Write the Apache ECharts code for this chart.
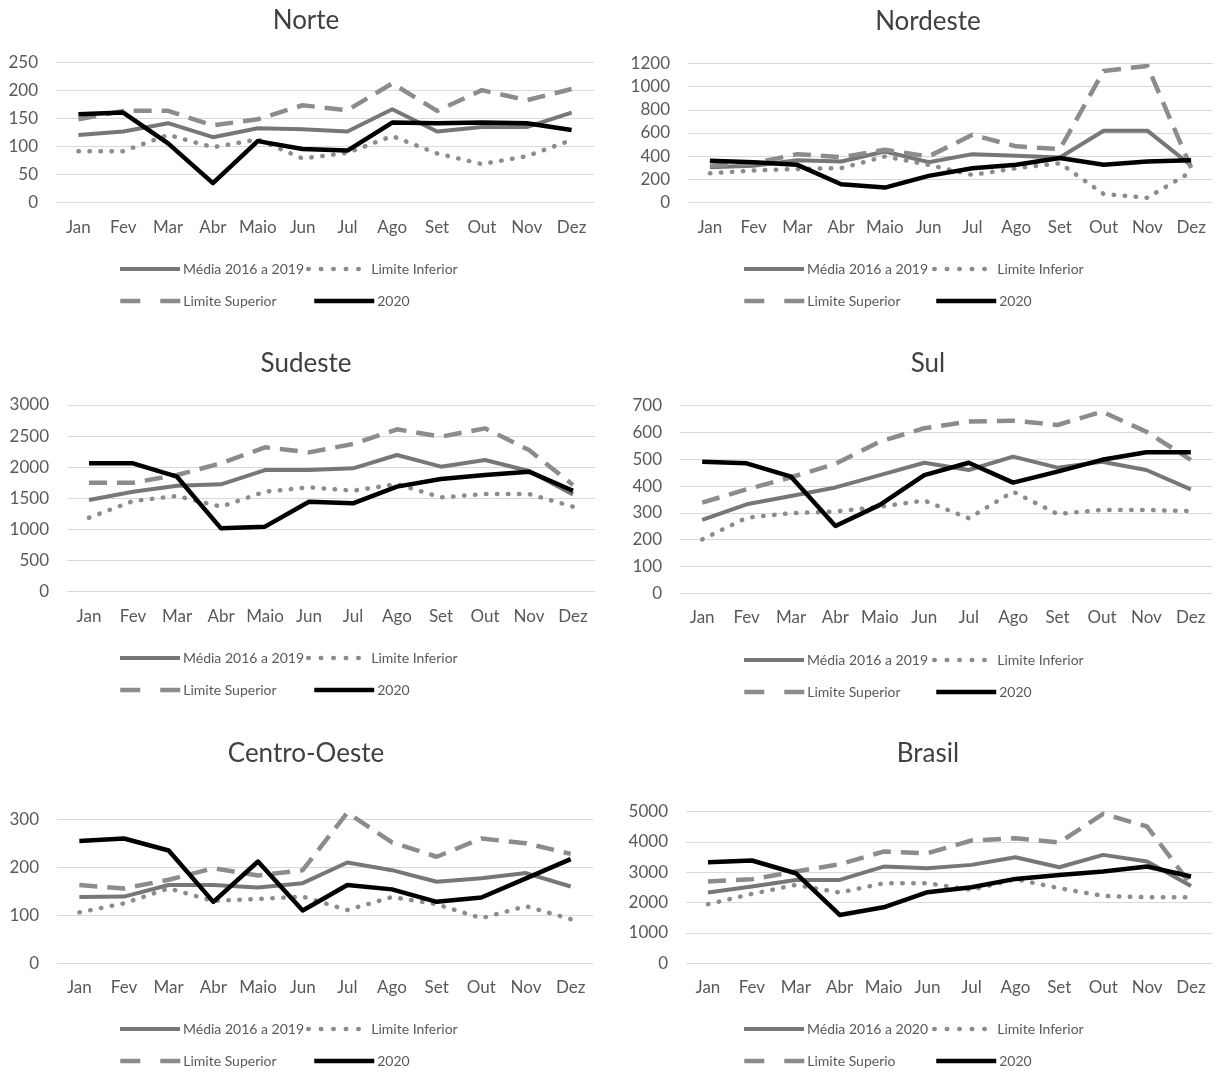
<!DOCTYPE html>
<html>
<head>
<meta charset="utf-8">
<title>Óbitos por região</title>
<script src="https://cdn.jsdelivr.net/npm/echarts@6/dist/echarts.min.js"></script>
<style>
  html, body { margin: 0; padding: 0; background: #ffffff; }
  #chart { width: 1223px; height: 1074px; }
</style>
</head>
<body>
<div id="chart"></div>
<script>
// Month categories shared by every panel
const months = ['Jan', 'Fev', 'Mar', 'Abr', 'Maio', 'Jun', 'Jul', 'Ago', 'Set', 'Out', 'Nov', 'Dez'];

// Norte
const norteMedia     = [121, 127, 142, 117, 133, 131, 127, 167, 127, 135, 135, 161];
const norteInferior  = [92, 92, 121, 99, 113, 79, 89, 119, 88, 69, 83, 112];
const norteSuperior  = [149, 164, 164, 138, 149, 174, 165, 213, 164, 201, 183, 203];
const norte2020      = [158, 161, 106, 35, 110, 96, 93, 143, 142, 143, 142, 130];

// Nordeste
const nordesteMedia    = [305, 318, 365, 355, 441, 349, 418, 404, 389, 620, 620, 320];
const nordesteInferior = [253, 277, 291, 297, 398, 326, 239, 297, 340, 75, 43, 265];
const nordesteSuperior = [318, 340, 418, 392, 456, 398, 585, 485, 461, 1134, 1177, 300];
const nordeste2020     = [361, 349, 326, 159, 130, 231, 297, 326, 384, 326, 355, 365];

// Sudeste
const sudesteMedia    = [1473, 1607, 1704, 1725, 1955, 1955, 1982, 2196, 2009, 2116, 1939, 1564];
const sudesteInferior = [1189, 1457, 1538, 1366, 1607, 1677, 1623, 1730, 1516, 1570, 1570, 1366];
const sudesteSuperior = [1752, 1752, 1875, 2062, 2320, 2239, 2373, 2609, 2491, 2625, 2277, 1714];
const sudeste2020     = [2062, 2062, 1848, 1018, 1045, 1446, 1420, 1688, 1812, 1875, 1929, 1623];

// Sul
const sulMedia    = [274, 332, 363, 395, 441, 487, 460, 510, 469, 491, 460, 388];
const sulInferior = [201, 282, 299, 305, 323, 346, 280, 379, 296, 311, 311, 307];
const sulSuperior = [338, 388, 433, 483, 566, 616, 641, 644, 628, 678, 603, 498];
const sul2020     = [491, 485, 435, 251, 330, 441, 487, 413, 454, 498, 526, 526];

// Centro-Oeste
const centroMedia    = [138, 139, 163, 163, 158, 167, 210, 194, 170, 177, 188, 160];
const centroInferior = [106, 125, 156, 130, 134, 139, 111, 138, 123, 94, 119, 92];
const centroSuperior = [163, 156, 174, 198, 183, 194, 314, 252, 222, 260, 250, 228];
const centro2020     = [255, 260, 235, 128, 212, 110, 163, 154, 128, 137, 177, 217];

// Brasil
const brasilMedia    = [2330, 2527, 2747, 2747, 3187, 3132, 3242, 3495, 3165, 3571, 3352, 2549];
const brasilInferior = [1945, 2286, 2582, 2330, 2637, 2637, 2418, 2769, 2473, 2220, 2176, 2176];
const brasilSuperior = [2692, 2769, 3022, 3264, 3681, 3626, 4044, 4121, 3978, 4923, 4505, 2582];
const brasil2020     = [3330, 3385, 2967, 1593, 1846, 2341, 2505, 2780, 2912, 3022, 3187, 2857];

// Series labels
const namesRegiao = ['Média 2016 a 2019', 'Limite Inferior', 'Limite Superior', '2020'];
const namesBrasil = ['Média 2016 a 2020', 'Limite Inferior', 'Limite Superio', '2020'];

const FONT = 'Lato, "Open Sans", sans-serif';
const LEFT_COL = { title: 306, leg: [118, 306, 118, 312] };
const RIGHT_COL = { title: 928, leg: [742, 932, 742, 934] };

const panels = [
  { title: 'Norte', col: LEFT_COL, titleY: 19,
    grid: { left: 56, top: 62.7, width: 538, height: 140 }, max: 250, interval: 50,
    legY: [269, 301], names: namesRegiao,
    data: [norteMedia, norteInferior, norteSuperior, norte2020] },
  { title: 'Nordeste', col: RIGHT_COL, titleY: 20,
    grid: { left: 688, top: 63.3, width: 525, height: 139.4 }, max: 1200, interval: 200,
    legY: [269, 301], names: namesRegiao,
    data: [nordesteMedia, nordesteInferior, nordesteSuperior, nordeste2020] },
  { title: 'Sudeste', col: LEFT_COL, titleY: 362,
    grid: { left: 67, top: 405, width: 528, height: 186.7 }, max: 3000, interval: 500,
    legY: [658, 690], names: namesRegiao,
    data: [sudesteMedia, sudesteInferior, sudesteSuperior, sudeste2020] },
  { title: 'Sul', col: RIGHT_COL, titleY: 362,
    grid: { left: 680, top: 405.7, width: 533, height: 187.6 }, max: 700, interval: 100,
    legY: [660, 692], names: namesRegiao,
    data: [sulMedia, sulInferior, sulSuperior, sul2020] },
  { title: 'Centro-Oeste', col: LEFT_COL, titleY: 752,
    grid: { left: 57, top: 819.3, width: 536, height: 144 }, max: 300, interval: 100,
    legY: [1029, 1061], names: namesRegiao,
    data: [centroMedia, centroInferior, centroSuperior, centro2020] },
  { title: 'Brasil', col: RIGHT_COL, titleY: 752,
    grid: { left: 686, top: 811.5, width: 527, height: 151.8 }, max: 5000, interval: 1000,
    legY: [1029, 1061], names: namesBrasil,
    data: [brasilMedia, brasilInferior, brasilSuperior, brasil2020] }
];

// Line looks: average, lower bound, upper bound, current year
const styles = [
  { color: '#777777', width: 4, type: 'solid', cap: 'butt' },
  { color: '#8c8c8c', width: 4.5, type: [0.5, 10.5], cap: 'round' },
  { color: '#8c8c8c', width: 4.5, type: [18, 10], cap: 'butt' },
  { color: '#000000', width: 4.5, type: 'solid', cap: 'butt' }
];
const legendDash = [null, [0.5, 12], [20, 20], null];

const option = {
  backgroundColor: '#ffffff',
  animation: false,
  title: [], grid: [], xAxis: [], yAxis: [], series: [], legend: []
};

panels.forEach((p, i) => {
  option.title.push({
    text: p.title, left: p.col.title, top: p.titleY - 11, textAlign: 'center', padding: 0,
    textStyle: { fontFamily: FONT, fontSize: 26, fontWeight: 'normal', color: '#404040' }
  });
  option.grid.push(Object.assign({ containLabel: false }, p.grid));
  option.xAxis.push({
    type: 'category', gridIndex: i, data: months, boundaryGap: true,
    axisLine: { show: false }, axisTick: { show: false },
    axisLabel: { fontFamily: FONT, fontSize: 17, color: '#595959', margin: 16, interval: 0 }
  });
  option.yAxis.push({
    type: 'value', gridIndex: i, min: 0, max: p.max, interval: p.interval,
    axisLine: { show: false }, axisTick: { show: false },
    axisLabel: { fontFamily: FONT, fontSize: 17, color: '#595959', margin: 18,
                 formatter: v => String(v) },
    splitLine: { lineStyle: { color: '#d9d9d9', width: 1 } }
  });
  p.data.forEach((vals, k) => {
    const s = styles[k];
    option.series.push({
      type: 'line', name: p.names[k], xAxisIndex: i, yAxisIndex: i,
      data: vals, symbol: 'none', smooth: false, clip: false,
      lineStyle: { color: s.color, width: s.width, type: s.type, cap: s.cap, join: 'round' },
      itemStyle: { color: s.color },
      emphasis: { disabled: true }
    });
  });
  // Two legend rows of two entries each, line sample only
  p.names.forEach((name, k) => {
    const s = styles[k];
    const ls = { width: s.width, color: s.color, cap: s.cap, opacity: 1 };
    if (legendDash[k]) ls.type = legendDash[k];
    option.legend.push({
      data: [name], left: p.col.leg[k], top: p.legY[k < 2 ? 0 : 1] - 7,
      orient: 'horizontal', padding: 0, itemWidth: 60, itemHeight: 14, itemGap: 0,
      selectedMode: false,
      lineStyle: ls, itemStyle: { color: s.color, borderWidth: 0, opacity: 0 },
      textStyle: { fontFamily: FONT, fontSize: 14, color: '#595959', padding: [0, 0, 0, -2] }
    });
  });
});

const chart = echarts.init(document.getElementById('chart'), null, { renderer: 'canvas' });
chart.setOption(option);
</script>
</body>
</html>
